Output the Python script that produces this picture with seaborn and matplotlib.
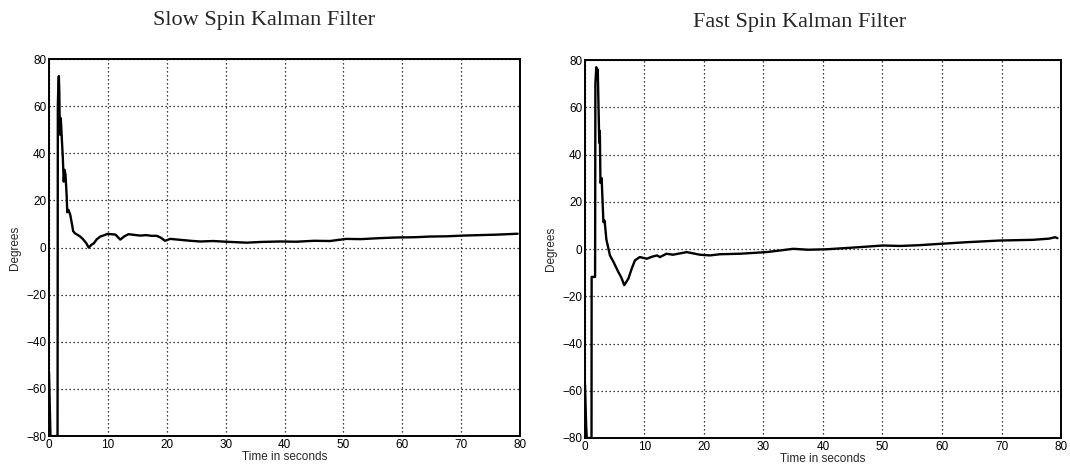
import matplotlib
matplotlib.use("Agg")
import matplotlib.pyplot as plt
import seaborn as sns

# ==========================
# Data read off the two filter responses
# ==========================
slow_t = [0, 0.2, 0.25, 1.45, 1.5, 1.6, 1.67, 1.75, 1.84, 2.0, 2.2, 2.35, 2.5, 2.65, 2.8,
          3.0, 3.1, 3.3, 3.6, 3.9, 4.1, 4.4, 4.8, 5.3, 5.8, 6.3, 6.75, 7.2, 7.6, 8.1,
          8.7, 9.3, 9.9, 10.6, 11.3, 12.1, 12.8, 13.5, 14.5, 15.5, 16.5, 17.4, 18.3, 19.0, 19.7,
          20.6, 22.3, 24.0, 25.7, 27.9, 30.0, 33.6, 36.0, 39.2, 42.0, 45.0, 47.7, 50.5, 53.0, 56.0,
          59.0, 62.0, 64.7, 67.5, 70.3, 73.0, 76.0, 78.8, 79.6]
slow_deg = [-53, -75, -80, -80, 60, 70, 72.8, 66, 48, 55, 45, 38, 28, 33, 31,
            22, 15, 16, 14, 10, 7, 6.1, 5.5, 4.7, 3.5, 2, 0, 1.2, 1.8, 3.5,
            4.7, 5.2, 5.8, 5.7, 5.5, 3.4, 4.8, 5.7, 5.4, 5.1, 5.3, 5.0, 5.0, 4.2, 2.9,
            3.7, 3.3, 2.9, 2.6, 2.8, 2.5, 2.1, 2.4, 2.6, 2.5, 2.9, 2.8, 3.7, 3.6, 4.0,
            4.3, 4.4, 4.7, 4.8, 5.1, 5.3, 5.5, 5.8, 5.9]

fast_t = [0, 0.2, 0.3, 1.1, 1.12, 1.7, 1.75, 1.9, 2.0, 2.15, 2.4, 2.5, 2.6, 2.8, 3.1,
          3.3, 3.6, 4.2, 4.8, 5.6, 6.1, 6.6, 7.3, 7.9, 8.4, 9.2, 10.4, 11.2, 12.1, 12.6,
          13.7, 14.8, 17.1, 19.3, 21.0, 22.7, 26.0, 30.5, 32.8, 35.0, 37.5, 40.6, 45.0, 50.1, 52.9,
          56.0, 59.7, 64.2, 69.7, 75.3, 78.0, 79.0, 79.4]
fast_deg = [-57, -75, -80, -80, -11.8, -11.8, 70, 77, 74, 76, 45, 50, 28, 30, 11.4,
            12, 4, -2.7, -5.5, -9.7, -12, -15.3, -12.5, -8, -4.8, -3.4, -4.1, -3.3, -2.7, -3.4,
            -2.0, -2.4, -1.3, -2.4, -2.7, -2.2, -2.0, -1.3, -0.6, 0.1, -0.3, -0.1, 0.6, 1.5, 1.3,
            1.6, 2.2, 2.9, 3.6, 3.9, 4.4, 5.0, 4.6]

titles = ["Slow Spin Kalman Filter", "Fast Spin Kalman Filter"]
x_ticks = [0, 10, 20, 30, 40, 50, 60, 70, 80]
y_ticks = [-80, -60, -40, -20, 0, 20, 40, 60, 80]

# ==========================
# Figure
# ==========================
sns.set_style("white")
plt.rcParams["font.family"] = ["Liberation Sans", "DejaVu Sans"]

fig = plt.figure(figsize=(10.7, 4.73), dpi=100)
ax_slow = fig.add_axes([0.0458, 0.078, 0.4402, 0.797])
ax_fast = fig.add_axes([0.5467, 0.074, 0.4449, 0.799])

panels = [(ax_slow, slow_t, slow_deg), (ax_fast, fast_t, fast_deg)]
for ax, t, d in panels:
    sns.lineplot(x=t, y=d, ax=ax, estimator=None, sort=False,
                 color="black", linewidth=1.7)
    ax.set_xlim(0, 80)
    ax.set_ylim(-80, 80)
    ax.set_xticks(x_ticks)
    ax.set_yticks(y_ticks)
    ax.grid(True, color="black", linestyle=(0, (1, 2.2)), linewidth=0.9)
    ax.tick_params(direction="in", length=4, width=1, labelsize=8.5, pad=2,
                   colors="black")
    for s in ax.spines.values():
        s.set_visible(True)
        s.set_color("black")
        s.set_linewidth(1.4)
    ax.set_xlabel("Time in seconds", fontsize=8.5, labelpad=0)
    ax.set_ylabel("Degrees", fontsize=8.5, labelpad=4)

# titles in a Times-like serif
fig.text(264 / 1070, 1 - 20 / 473, titles[0], ha="center", va="center",
         fontsize=16, family="Liberation Serif")
fig.text(800 / 1070, 1 - 22 / 473, titles[1], ha="center", va="center",
         fontsize=16, family="Liberation Serif")

fig.savefig("out.png", dpi=100, facecolor="white")
plt.close(fig)
